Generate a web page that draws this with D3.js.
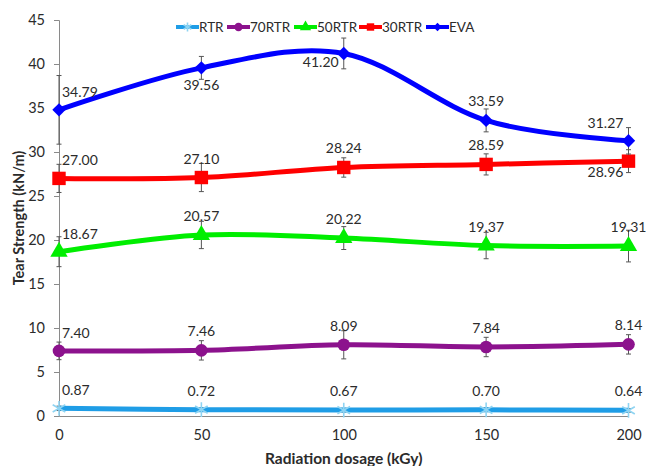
<!DOCTYPE html>
<html>
<head>
<meta charset="utf-8">
<script src="https://cdn.jsdelivr.net/npm/d3@7"></script>
<style>
  html, body { margin: 0; padding: 0; background: #fff; }
  svg { display: block; font-family: Lato, "Open Sans", sans-serif; }
</style>
</head>
<body>
<svg id="chart" width="646" height="466"></svg>
<script>
// Radiation dose (kGy)
const doses = [0, 50, 100, 150, 200];

// Series names in legend order
const seriesNames = ["RTR", "70RTR", "50RTR", "30RTR", "EVA"];

// Tear strength means (kN/m)
const rtrValues   = [0.87, 0.72, 0.67, 0.70, 0.64];
const rtr70Values = [7.40, 7.46, 8.09, 7.84, 8.14];
const rtr50Values = [18.67, 20.57, 20.22, 19.37, 19.31];
const rtr30Values = [27.00, 27.10, 28.24, 28.59, 28.96];
const evaValues   = [34.79, 39.56, 41.20, 33.59, 31.27];

// Standard deviations (error bar half-lengths)
const rtrErrors   = [0.25, 0.2, 0.2, 0.2, 0.2];
const rtr70Errors = [1.0, 1.1, 1.6, 1.1, 1.1];
const rtr50Errors = [1.7, 1.55, 1.3, 1.5, 1.8];
const rtr30Errors = [1.6, 1.6, 1.1, 1.2, 1.3];
const evaErrors   = [3.9, 1.3, 1.75, 1.3, 1.5];

const yTicks = [0, 5, 10, 15, 20, 25, 30, 35, 40, 45];
const xTicks = [0, 50, 100, 150, 200];

const series = [
  { name: seriesNames[0], values: rtrValues,   errors: rtrErrors },
  { name: seriesNames[1], values: rtr70Values, errors: rtr70Errors },
  { name: seriesNames[2], values: rtr50Values, errors: rtr50Errors },
  { name: seriesNames[3], values: rtr30Values, errors: rtr30Errors },
  { name: seriesNames[4], values: evaValues,   errors: evaErrors }
];

// Appearance per series
const styles = {
  "RTR":   { color: "#1f9de6", marker: "star",     markColor: "#8fd4f2", size: 150 },
  "70RTR": { color: "#8c128d", marker: "circle",   markColor: "#8c128d", size: 125 },
  "50RTR": { color: "#00ee00", marker: "triangle", markColor: "#00ee00", size: 130 },
  "30RTR": { color: "#ff0000", marker: "square",   markColor: "#ff0000", size: 180 },
  "EVA":   { color: "#0000ff", marker: "diamond",  markColor: "#0000ff", size: 90 }
};

// Data-label placement overrides: [dx, dy(baseline), anchor]
const labelPlacement = {
  "EVA-1":   [0, 22, "middle"],
  "EVA-2":   [-23, 14, "middle"],
  "EVA-4":   [-23, -13, "middle"],
  "30RTR-4": [-23, 16, "middle"]
};

const svg = d3.select("#chart");
const x = d3.scaleLinear().domain([0, 200]).range([59, 628.5]);
const y = d3.scaleLinear().domain([0, 45]).range([416, 20]);

const axisColor = "#8a8a8a";
const textColor = "#2b2b2b";

// Y axis
const yAxis = svg.append("g")
  .attr("transform", `translate(${x(0)},0)`)
  .call(d3.axisLeft(y).tickValues(yTicks).tickSize(5).tickPadding(9));
yAxis.select(".domain").attr("stroke", axisColor);
yAxis.selectAll(".tick line").attr("stroke", axisColor);
yAxis.selectAll(".tick text")
  .attr("fill", textColor).style("font-size", "14.5px")
  .style("font-family", "Lato, sans-serif");

// X axis
const xAxis = svg.append("g")
  .attr("transform", `translate(0,${y(0)})`)
  .call(d3.axisBottom(x).tickValues(xTicks).tickSize(0).tickPadding(14));
xAxis.select(".domain").attr("stroke", axisColor);
xAxis.selectAll(".tick text")
  .attr("fill", textColor).style("font-size", "14.5px")
  .style("font-family", "Lato, sans-serif");

// Axis titles
svg.append("text")
  .attr("x", x(100))
  .attr("y", 464)
  .attr("text-anchor", "middle")
  .attr("fill", textColor)
  .style("font-size", "15.5px").style("font-weight", "bold")
  .text("Radiation dosage (kGy)");

svg.append("text")
  .attr("transform", `translate(24,${218}) rotate(-90)`)
  .attr("text-anchor", "middle")
  .attr("fill", textColor)
  .style("font-size", "14.5px").style("font-weight", "bold")
  .text("Tear Strength (kN/m)");

// Diamond drawn as a rotated square (equal width and height)
const squareDiamond = {
  draw(context, size) {
    const r = Math.sqrt(size / 2);
    context.moveTo(0, -r);
    context.lineTo(r, 0);
    context.lineTo(0, r);
    context.lineTo(-r, 0);
    context.closePath();
  }
};

const symbolTypes = {
  star: d3.symbolAsterisk,
  circle: d3.symbolCircle,
  triangle: d3.symbolTriangle,
  square: d3.symbolSquare,
  diamond: squareDiamond
};

function drawMarker(g, st, cx, cy, size) {
  const sym = d3.symbol().type(symbolTypes[st.marker]).size(size);
  const p = g.append("path")
    .attr("d", sym())
    .attr("transform", `translate(${cx},${cy})`);
  if (st.marker === "star") {
    p.attr("fill", "none").attr("stroke", st.markColor).attr("stroke-width", 1.6);
  } else {
    p.attr("fill", st.markColor);
  }
  return p;
}

const line = d3.line()
  .x((d, i) => x(doses[i]))
  .y(d => y(d))
  .curve(d3.curveCardinal.tension(0));

series.forEach(s => {
  const st = styles[s.name];
  const g = svg.append("g").attr("class", "series");

  // error bars
  s.values.forEach((v, i) => {
    const cx = x(doses[i]);
    const e = s.errors[i];
    const eb = g.append("g").attr("stroke", "#555").attr("stroke-width", 1);
    eb.append("line").attr("x1", cx).attr("x2", cx).attr("y1", y(v + e)).attr("y2", y(v - e));
    eb.append("line").attr("x1", cx - 2.5).attr("x2", cx + 2.5).attr("y1", y(v + e)).attr("y2", y(v + e));
    eb.append("line").attr("x1", cx - 2.5).attr("x2", cx + 2.5).attr("y1", y(v - e)).attr("y2", y(v - e));
  });

  // smoothed line
  g.append("path")
    .datum(s.values)
    .attr("d", line)
    .attr("fill", "none")
    .attr("stroke", st.color)
    .attr("stroke-width", 5)
    .attr("stroke-linejoin", "round");

  // markers
  s.values.forEach((v, i) => drawMarker(g, st, x(doses[i]), y(v), st.size));

  // value labels
  s.values.forEach((v, i) => {
    const key = `${s.name}-${i}`;
    let dx = 0, dy = -14, anchor = "middle";
    if (i === 0) { dx = 3; dy = -13; anchor = "start"; }
    if (labelPlacement[key]) [dx, dy, anchor] = labelPlacement[key];
    g.append("text")
      .attr("x", x(doses[i]) + dx)
      .attr("y", y(v) + dy)
      .attr("text-anchor", anchor)
      .attr("fill", textColor)
      .style("font-size", "14px")
      .text(v.toFixed(2));
  });
});

// Legend
const legendStarts = [176, 227, 294, 359, 426];
const legend = svg.append("g");
series.forEach((s, i) => {
  const st = styles[s.name];
  const lx = legendStarts[i];
  const ly = 27;
  const lg = legend.append("g");
  lg.append("line")
    .attr("x1", lx).attr("x2", lx + 23)
    .attr("y1", ly).attr("y2", ly)
    .attr("stroke", st.color).attr("stroke-width", 4);
  drawMarker(lg, st, lx + 11.5, ly, st.marker === "diamond" ? 35 : 55);
  lg.append("text")
    .attr("x", lx + 23)
    .attr("y", ly + 4.5)
    .attr("fill", textColor)
    .style("font-size", "13.5px")
    .text(s.name);
});
</script>
</body>
</html>
